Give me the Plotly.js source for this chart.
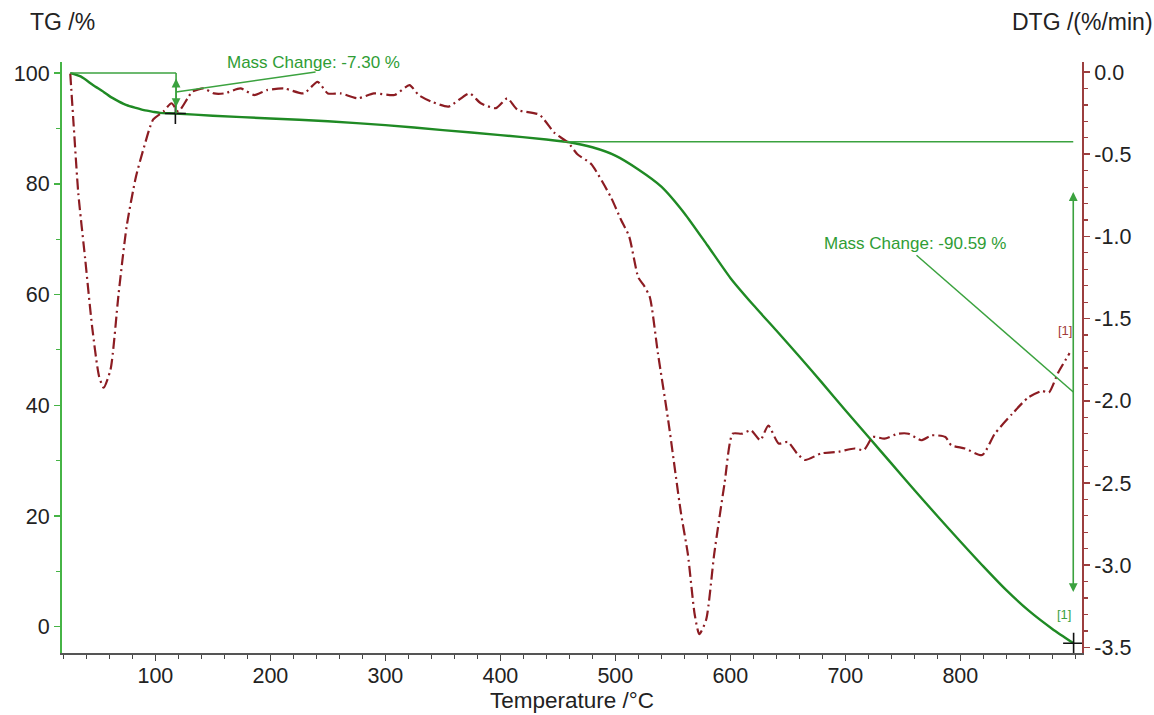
<!DOCTYPE html>
<html>
<head>
<meta charset="utf-8">
<script src="https://cdn.plot.ly/plotly-3.0.1.min.js"></script>
<style>html,body{margin:0;padding:0;background:#fff;}#chart{width:1154px;height:715px;}</style>
</head>
<body>
<div id="chart"></div>
<script>
// TG curve (mass %, left axis)
var tgTemp = [26,35,46,55,61,68,75,83,90,98,104,117,150,200,250,300,350,400,440,460,480,500,520,540,560,580,600,620,640,660,680,700,720,740,760,780,800,820,840,860,880,898.5];
var tgMass = [100,99.4,97.8,96.6,95.7,94.9,94.2,93.7,93.3,93.0,92.8,92.7,92.3,91.8,91.3,90.6,89.7,88.8,88.0,87.5,86.6,85.1,82.6,79.5,74.7,68.9,63.0,58.1,53.5,48.8,44.0,39.1,34.3,29.5,24.7,20.0,15.4,10.9,6.6,2.8,-0.4,-3.0];

// DTG curve (%/min, right axis)
var dtgTemp = [26,29,33,39,45,51,55,61,68,75,83,90,98,107,114,120,128,132,142,151,160,174,186,197,212,229,241,250,261,276,290,308,321,329,340,355,373,383,396,406,415,434,447,459,467,479,496,505,512,520,525,530,537,546,557,563,569,573,579,586,595,602,610,618,626,633,642,650,658,665,679,694,708,716,724,734,746,755,766,775,787,792,804,819,830,845,859,871,877,885,895];
var dtgRate = [-0.01,-0.33,-0.74,-1.14,-1.55,-1.85,-1.92,-1.81,-1.35,-0.94,-0.64,-0.46,-0.29,-0.24,-0.19,-0.24,-0.16,-0.12,-0.10,-0.13,-0.13,-0.10,-0.14,-0.11,-0.10,-0.13,-0.06,-0.13,-0.13,-0.16,-0.13,-0.14,-0.08,-0.14,-0.18,-0.21,-0.13,-0.19,-0.22,-0.16,-0.23,-0.26,-0.37,-0.43,-0.50,-0.56,-0.76,-0.90,-1.00,-1.25,-1.30,-1.37,-1.71,-2.12,-2.68,-2.93,-3.30,-3.42,-3.33,-2.93,-2.50,-2.20,-2.20,-2.18,-2.24,-2.15,-2.26,-2.25,-2.32,-2.36,-2.32,-2.31,-2.29,-2.30,-2.22,-2.23,-2.20,-2.20,-2.24,-2.21,-2.22,-2.27,-2.29,-2.33,-2.20,-2.08,-1.98,-1.94,-1.95,-1.83,-1.71];

// Mass change evaluation marks
var stepLabels = ["Mass Change: -7.30 %", "Mass Change: -90.59 %"];
var stepMarkTemp = [117.4, 898.5];
var stepMarkMass = [92.7, -3.0];
var step1LevelTemp = [26, 118];
var step1Level = 100;
var step1Arrow = [99.0, 93.6];
var step1Leader = {x: [118, 239.3], y: [96.6, 100.2]};
var step1LabelPos = [237.6, 102.0];
var step2LevelTemp = [455, 898.2];
var step2Level = 87.6;
var step2Arrow = [78.5, 6.0];
var step2Leader = {x: [761.9, 898.2], y: [67.1, 42.4]};
var step2LabelPos = [760.7, 69.2];
var endTagTG = [890, 0.4];
var endTagDTG = [891, -1.63];

var xTicks = [100,200,300,400,500,600,700,800];
var tgTicks = [0,20,40,60,80,100];
var dtgTicks = [0.0,-0.5,-1.0,-1.5,-2.0,-2.5,-3.0,-3.5];

var GREEN = '#1f8a24';
var GREEN_L = '#3ba23f';
var AXGREEN = '#46b446';
var RED = '#8c1c22';
var AXRED = '#9c3f3f';
var FONT = 'Liberation Sans, Arial, Helvetica, sans-serif';

var traces = [
  {x: dtgTemp, y: dtgRate, yaxis: 'y2', type: 'scatter', mode: 'lines',
   line: {color: RED, width: 2.2, dash: '11px,4px,2px,4px', shape: 'spline', smoothing: 0.6},
   hoverinfo: 'skip', showlegend: false},
  {x: tgTemp, y: tgMass, type: 'scatter', mode: 'lines',
   line: {color: GREEN, width: 2.4, shape: 'spline', smoothing: 0.6},
   hoverinfo: 'skip', showlegend: false},
  {x: stepMarkTemp, y: stepMarkMass, type: 'scatter', mode: 'markers',
   marker: {symbol: 'cross-thin', size: 15, line: {color: '#111', width: 1.6}},
   hoverinfo: 'skip', showlegend: false}
];

var shapes = [
  {type: 'line', xref: 'x', yref: 'y', x0: step1LevelTemp[0], x1: step1LevelTemp[1], y0: step1Level, y1: step1Level, line: {color: GREEN_L, width: 1.6}},
  {type: 'line', xref: 'x', yref: 'y', x0: step1LevelTemp[1], x1: step1LevelTemp[1], y0: step1Level, y1: stepMarkMass[0], line: {color: GREEN_L, width: 1.6}},
  {type: 'line', xref: 'x', yref: 'y', x0: step1Leader.x[0], x1: step1Leader.x[1], y0: step1Leader.y[0], y1: step1Leader.y[1], line: {color: GREEN_L, width: 1.5}},
  {type: 'line', xref: 'x', yref: 'y', x0: step2LevelTemp[0], x1: step2LevelTemp[1], y0: step2Level, y1: step2Level, line: {color: GREEN_L, width: 1.6}},
  {type: 'line', xref: 'x', yref: 'y', x0: step2Leader.x[0], x1: step2Leader.x[1], y0: step2Leader.y[0], y1: step2Leader.y[1], line: {color: GREEN_L, width: 1.5}}
];

var annotations = [
  {xref: 'paper', yref: 'paper', x: 0, y: 1.0677, xanchor: 'center', yanchor: 'middle', showarrow: false,
   text: 'TG /%', font: {family: FONT, size: 23, color: '#222'}},
  {xref: 'paper', yref: 'paper', x: 1, y: 1.0677, xanchor: 'center', yanchor: 'middle', showarrow: false,
   text: 'DTG /(%/min)', font: {family: FONT, size: 23, color: '#222'}},
  {xref: 'x', yref: 'y', x: step1LabelPos[0], y: step1LabelPos[1], xanchor: 'center', yanchor: 'middle', showarrow: false,
   text: stepLabels[0], font: {family: FONT, size: 17, color: '#2f9d35'}},
  {xref: 'x', yref: 'y', x: step2LabelPos[0], y: step2LabelPos[1], xanchor: 'center', yanchor: 'middle', showarrow: false,
   text: stepLabels[1], font: {family: FONT, size: 17, color: '#2f9d35'}},
  {xref: 'x', yref: 'y', axref: 'x', ayref: 'y', x: step1LevelTemp[1], y: step1Arrow[0], ax: step1LevelTemp[1], ay: step1Arrow[1],
   text: '', showarrow: true, arrowhead: 2, arrowside: 'end+start', arrowsize: 1.1, arrowwidth: 1.6, arrowcolor: GREEN_L},
  {xref: 'x', yref: 'y', axref: 'x', ayref: 'y', x: step2LevelTemp[1], y: step2Arrow[0], ax: step2LevelTemp[1], ay: step2Arrow[1],
   text: '', showarrow: true, arrowhead: 2, arrowside: 'end+start', arrowsize: 1.1, arrowwidth: 1.6, arrowcolor: GREEN_L},
  {xref: 'x', yref: 'y', x: endTagTG[0], y: endTagTG[1], xanchor: 'center', yanchor: 'bottom', showarrow: false,
   text: '[1]', font: {family: FONT, size: 13, color: '#3ba23f'}},
  {xref: 'x', yref: 'y2', x: endTagDTG[0], y: endTagDTG[1], xanchor: 'center', yanchor: 'bottom', showarrow: false,
   text: '[1]', font: {family: FONT, size: 13, color: '#a23a3a'}}
];

var layout = {
  width: 1154, height: 715,
  margin: {l: 62, r: 72, t: 62, b: 62},
  paper_bgcolor: '#fff', plot_bgcolor: '#fff',
  font: {family: FONT, size: 22, color: '#222'},
  showlegend: false,
  hovermode: false,
  xaxis: {
    range: [18.8, 905.8], showgrid: false, zeroline: false,
    showline: true, linecolor: '#555', linewidth: 2,
    tickmode: 'array', tickvals: xTicks, ticktext: xTicks.map(String),
    ticks: 'outside', ticklen: 6, tickwidth: 1.5, tickcolor: '#444',
    minor: {dtick: 20, tick0: 0, ticks: 'outside', ticklen: 4, tickwidth: 1.2, tickcolor: '#444', showgrid: false},
    ticklabelstandoff: -4,
    tickfont: {family: FONT, size: 21.5, color: '#222'},
    title: {text: 'Temperature /°C', font: {family: FONT, size: 22.5, color: '#222'}, standoff: 0}
  },
  yaxis: {
    range: [-4.75, 102.0], showgrid: false, zeroline: false,
    showline: true, linecolor: AXGREEN, linewidth: 2,
    tickmode: 'array', tickvals: tgTicks, ticktext: tgTicks.map(String),
    ticks: 'outside', ticklen: 6, tickwidth: 1.5, tickcolor: AXGREEN,
    minor: {dtick: 10, tick0: 0, ticks: 'outside', ticklen: 4, tickwidth: 1.2, tickcolor: AXGREEN, showgrid: false},
    tickfont: {family: FONT, size: 21.5, color: '#222'}
  },
  yaxis2: {
    range: [-3.534, 0.061], overlaying: 'y', side: 'right', showgrid: false, zeroline: false,
    showline: true, linecolor: AXRED, linewidth: 2,
    tickmode: 'array', tickvals: dtgTicks, ticktext: dtgTicks.map(function(v){return v.toFixed(1);}),
    ticks: 'outside', ticklen: 6, tickwidth: 1.5, tickcolor: AXRED,
    minor: {dtick: 0.1, tick0: 0, ticks: 'outside', ticklen: 4, tickwidth: 1.2, tickcolor: AXRED, showgrid: false},
    tickfont: {family: FONT, size: 21.5, color: '#222'}
  },
  shapes: shapes,
  annotations: annotations
};

Plotly.newPlot('chart', traces, layout, {staticPlot: true, displayModeBar: false});
</script>
</body>
</html>
